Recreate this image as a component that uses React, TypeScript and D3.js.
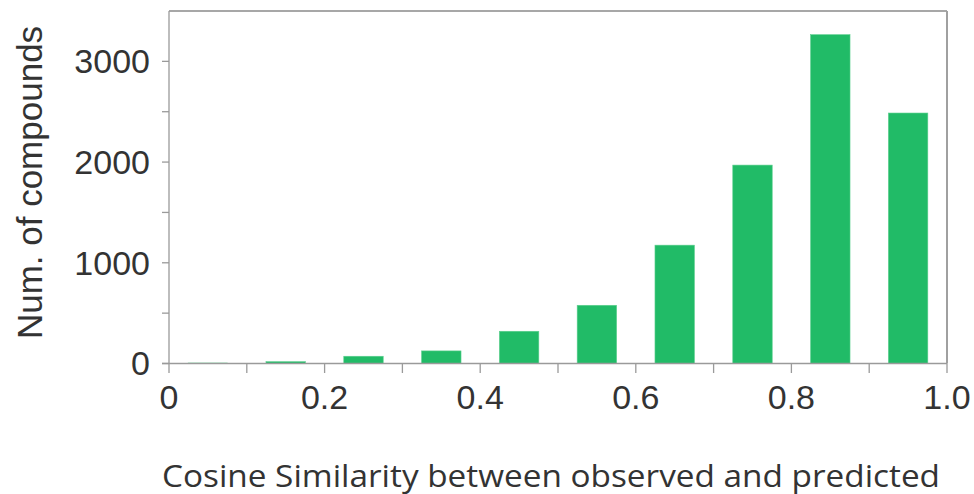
import React from "react";
import * as d3 from "d3";

const binStarts = [0, 0.1, 0.2, 0.3, 0.4, 0.5, 0.6, 0.7, 0.8, 0.9];
const counts = [5, 18, 72, 125, 320, 578, 1175, 1970, 3265, 2487];
const xTickValues = [0, 0.1, 0.2, 0.3, 0.4, 0.5, 0.6, 0.7, 0.8, 0.9, 1.0];
const xTickLabels = ["0", "", "0.2", "", "0.4", "", "0.6", "", "0.8", "", "1.0"];
const yTickValues = [0, 500, 1000, 1500, 2000, 2500, 3000];
const yTickLabels = ["0", "", "1000", "", "2000", "", "3000"];

const W = 974;
const H = 494;
const left = 169;
const right = 947;
const top = 11;
const bottom = 363.5;

export default function App() {
  const x = d3.scaleLinear().domain([0, 1]).range([left, right]);
  const y = d3.scaleLinear().domain([0, 3500]).range([bottom, top]);
  const axisColor = "#9a9a9a";
  const textColor = "#333333";
  const barWidth = 0.0507;
  return (
    <svg
      width={W}
      height={H}
      style={{ position: "absolute", left: 0, top: 0, background: "#fff" }}
    >
      {binStarts.map((b, i) => (
        <rect
          key={i}
          x={x(b + 0.05 - barWidth / 2)}
          y={y(counts[i])}
          width={x(barWidth) - x(0)}
          height={y(0) - y(counts[i])}
          fill="#21bb67"
          stroke="#5ccf8e"
          strokeWidth={0.6}
        />
      ))}
      {/* frame */}
      <line x1={left} x2={right} y1={top} y2={top} stroke="#8a8a8a" strokeWidth={1.3} />
      <line x1={right} x2={right} y1={top} y2={bottom} stroke="#a0a0a0" strokeWidth={2} />
      <line x1={left} x2={left} y1={top} y2={bottom} stroke={axisColor} strokeWidth={1.3} />
      <line x1={left - 7} x2={right} y1={bottom} y2={bottom} stroke={axisColor} strokeWidth={1.3} />
      {/* y ticks */}
      {yTickValues.map((v, i) => (
        <g key={"y" + i}>
          <line x1={left - 7} x2={left} y1={y(v)} y2={y(v)} stroke={axisColor} strokeWidth={1.3} />
          {yTickLabels[i] && (
            <text
              x={left - 19}
              y={y(v)}
              dy="0.35em"
              textAnchor="end"
              fontFamily="Liberation Sans, Arial, sans-serif"
              fontSize={34}
              fill={textColor}
            >
              {yTickLabels[i]}
            </text>
          )}
        </g>
      ))}
      {/* x ticks */}
      {xTickValues.map((v, i) => (
        <g key={"x" + i}>
          <line x1={x(v)} x2={x(v)} y1={bottom} y2={bottom + 9.5} stroke={axisColor} strokeWidth={1.3} />
          {xTickLabels[i] && (
            <text
              x={x(v)}
              y={409}
              textAnchor="middle"
              fontFamily="Liberation Sans, Arial, sans-serif"
              fontSize={34}
              fill={textColor}
            >
              {xTickLabels[i]}
            </text>
          )}
        </g>
      ))}
      <text
        transform={`translate(42, ${182.5}) rotate(-90)`}
        textAnchor="middle"
        fontFamily="Liberation Sans, Arial, sans-serif"
        fontSize={35}
        fill={textColor}
      >
        Num. of compounds
      </text>
      <text
        x={551}
        y={486.5}
        textAnchor="middle"
        fontFamily="Open Sans, sans-serif"
        fontSize={31}
        fill={textColor}
        textLength={778}
        lengthAdjust="spacingAndGlyphs"
      >
        Cosine Similarity between observed and predicted
      </text>
    </svg>
  );
}
